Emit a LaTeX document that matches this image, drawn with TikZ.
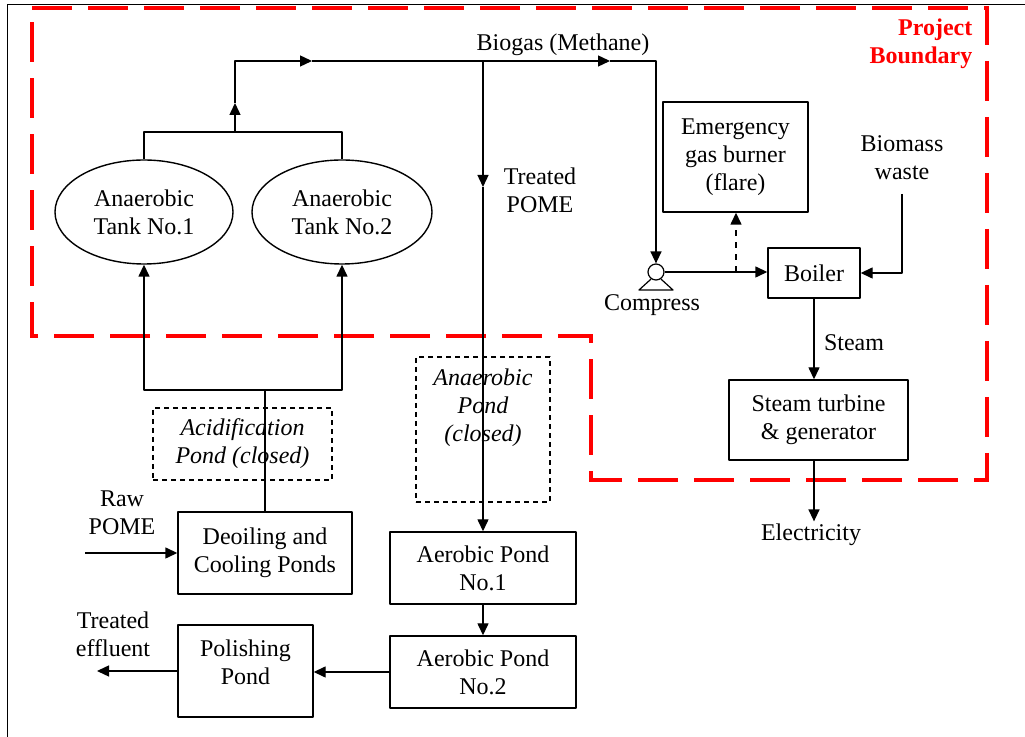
\documentclass[tikz,border=0pt]{standalone}
\usepackage{fontspec}
\setmainfont{Liberation Serif}
\usetikzlibrary{shapes.geometric,arrows.meta}

\begin{document}
\begin{tikzpicture}[x=0.5pt,y=-0.5pt,>={Triangle[length=6pt,width=5.5pt]},line join=round,line width=0.7pt,
	font=\fontsize{12}{14}\selectfont,
	box/.style={draw,rectangle,align=center,inner sep=0pt},
	tank/.style={draw,ellipse,align=center,inner sep=0pt},
	closedpond/.style={draw,dash pattern=on 2.5pt off 2pt,line width=0.6pt,align=center,inner sep=0pt,font=\fontsize{12}{14}\selectfont\itshape},
	lbl/.style={align=center,inner sep=1pt}]
	\useasboundingbox (0,0) rectangle (1025,737);
	\draw[line width=0.5pt] (7,737) -- (7,5) -- (1025,5);
	\draw[red,line width=2pt,dash pattern=on 20pt off 8pt,line join=miter] (32,8) -- (987,8) -- (987,480) -- (591,480) -- (591,336) -- (32,336) -- cycle;
	\node[lbl,anchor=east,text=red,align=right,font=\fontsize{12}{14}\selectfont\bfseries] (boundary) at (975,44) {Project\\Boundary};
	% process units
	\node[tank,minimum width=89pt,minimum height=52pt] (tank1) at (144,212) {Anaerobic\\Tank No.1};
	\node[tank,minimum width=90pt,minimum height=52pt] (tank2) at (342,212) {Anaerobic\\Tank No.2};
	\node[box,minimum width=72.5pt,minimum height=55pt] (flare) at (735.5,157) {Emergency\\gas burner\\(flare)};
	\node[draw,circle,inner sep=0pt,minimum size=8pt,line width=0.6pt] (comp) at (656,272) {};
	\draw[line width=0.6pt] (comp.-125) -- (639,290) -- (673,290) -- (comp.-55);
	\node[box,minimum width=46pt,minimum height=25pt] (boiler) at (814,273) {Boiler};
	\node[box,minimum width=89.5pt,minimum height=40pt] (turbine) at (818.5,420) {Steam turbine\\\& generator};
	\node[closedpond,minimum width=89.5pt,minimum height=36pt] (acid) at (242.5,444) {Acidification\\Pond (closed)};
	\node[closedpond,minimum width=67pt,minimum height=72.5pt,label={[lbl,yshift=10.75pt,font=\fontsize{12}{14}\selectfont\itshape]center:{Anaerobic\\Pond\\(closed)}}] (anpond) at (483,429.5) {};
	\node[box,minimum width=87pt,minimum height=41pt] (deoil) at (265,553) {Deoiling and\\Cooling Ponds};
	\node[box,minimum width=93pt,minimum height=36pt] (aer1) at (483,568) {Aerobic Pond\\No.1};
	\node[box,minimum width=93pt,minimum height=36pt] (aer2) at (483,672) {Aerobic Pond\\No.2};
	\node[box,minimum width=67.5pt,minimum height=46pt,label={[lbl,yshift=4.5pt]center:{Polishing\\Pond}}] (polish) at (245.5,671) {};
	% labels
	\node[lbl] (biogas) at (563,45) {Biogas (Methane)};
	\node[lbl] (tpome) at (540,190) {Treated\\POME};
	\node[lbl] (compress) at (652,305) {Compress};
	\node[lbl] (biomass) at (902,158) {Biomass\\waste};
	\node[lbl] (steam) at (854,343) {Steam};
	\node[lbl] (elec) at (811,535) {Electricity};
	\node[lbl] (raw) at (122,513) {Raw\\POME};
	\node[lbl] (effluent) at (113,634) {Treated\\effluent};
	\coordinate (merge) at (235,132);
	\coordinate (mergeup) at (235,103);
	\coordinate (gasA) at (312,61);
	\coordinate (gasB) at (610,61);
	\coordinate (pometap) at (483,61);
	\coordinate (pomemid) at (483,187);
	\coordinate (flaretap) at (736,272);
	\coordinate (biomassin) at (902,194);
	\coordinate (feed) at (265,390);
	\coordinate (rawin) at (85,553);
	\coordinate (effout) at (97,671);
	% flows
	\draw (tank1.north) |- (merge) -| (tank2.north);
	\draw[->] (merge) -- (mergeup);
	\draw[->] (mergeup) |- (gasA);
	\draw[->] (gasA) -- (gasB);
	\draw[->] (gasB) -| (comp.north);
	\draw[->] (pometap) -- (pomemid);
	\draw[->] (pomemid) -- (aer1.north);
	\draw[->] (comp.east) -- (comp.east -| boiler.west);
	\draw[->,dashed] (flaretap) -- (flaretap |- flare.south);
	\draw[->] (biomassin) |- (boiler.east);
	\draw[->] (boiler.south) -- (boiler.south |- turbine.north);
	\draw[->] (boiler.south |- turbine.south) -- (boiler.south |- elec.north);
	\draw (deoil.north) -- (feed);
	\draw[->] (feed) -| (tank1.south);
	\draw[->] (feed) -| (tank2.south);
	\draw[->] (rawin) -- (deoil.west);
	\draw[->] (aer1.south) -- (aer2.north);
	\draw[->] (aer2.west) -- (aer2.west -| polish.east);
	\draw[->] (polish.west) -- (effout);
\end{tikzpicture}
\end{document}
